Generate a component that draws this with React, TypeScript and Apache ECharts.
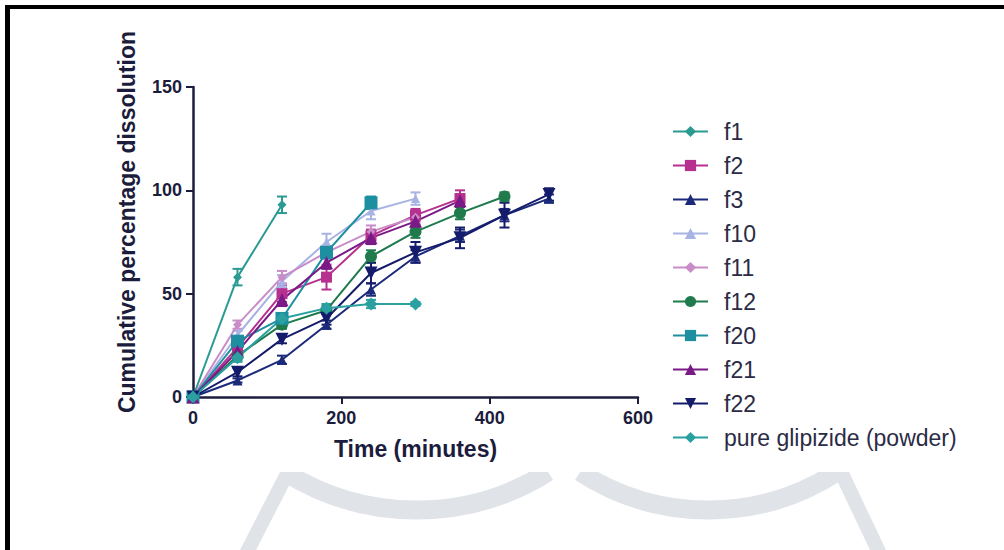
import React, { useEffect, useRef } from "react";
import * as echarts from "echarts";

const timePoints = [0, 60, 120, 180, 240, 300, 360, 420, 480];
const xTicks = [0, 200, 400, 600];
const yTicks = [0, 50, 100, 150];

const seriesNames = ["f1", "f2", "f3", "f10", "f11", "f12", "f20", "f21", "f22", "pure glipizide (powder)"];

const f1 = [0, 58, 93];
const f2 = [0, 24, 50, 58, 78, 88, 96];
const f3 = [0, 8, 18, 35, 52, 68, 78, 88, 96];
const f10 = [0, 30, 56, 75, 90, 96];
const f11 = [0, 35, 58, 70, 80, 87];
const f12 = [0, 20, 35, 42, 68, 80, 89, 97];
const f20 = [0, 27, 38, 70, 94];
const f21 = [0, 22, 47, 65, 77, 85, 95];
const f22 = [0, 12, 28, 38, 60, 70, 77, 88, 98];
const pure = [0, 19, 38, 43, 45, 45];

const f1Sd = [0, 4, 4];
const f2Sd = [0, 2, 4, 6, 3, 3, 4];
const f3Sd = [0, 1, 2, 2, 3, 3, 3, 3, 2];
const f10Sd = [0, 2, 3, 4, 4, 3];
const f11Sd = [0, 2, 3, 3, 3, 3];
const f12Sd = [0, 2, 2, 2, 3, 3, 3, 2];
const f20Sd = [0, 2, 2, 3, 3];
const f21Sd = [0, 2, 3, 3, 3, 3, 3];
const f22Sd = [0, 2, 2, 3, 5, 5, 5, 6, 3];
const pureSd = [0, 2, 2, 2, 2, 1];

const seriesValues = [f1, f2, f3, f10, f11, f12, f20, f21, f22, pure];
const seriesSd = [f1Sd, f2Sd, f3Sd, f10Sd, f11Sd, f12Sd, f20Sd, f21Sd, f22Sd, pureSd];

const colors = ["#2a9a92", "#b5308f", "#1b2a7a", "#a7b3e3", "#c98cc9", "#1f7a4c", "#1d8fa0", "#7a1a86", "#151b6b", "#2aa0a0"];
const downTri = "path://M0,0 L10,0 L5,9 Z";
const symbols = ["diamond", "rect", "triangle", "triangle", "diamond", "circle", "rect", "triangle", "downTri", "diamond"];
const symbolSizes = [9, 11, 10, 9, 9, 12, 13, 13, 13, 13];

const AXIS = "#1c1c3c";
const FONT = "'Liberation Sans', Arial, Helvetica, sans-serif";
const WM = "#e0e3e8";

export default function App() {
  const ref = useRef<HTMLDivElement>(null);
  useEffect(() => {
    if (!ref.current) return;
    const chart = echarts.init(ref.current, null, { renderer: "svg" });

    const errSeries = seriesNames.map((name, i) => ({
      type: "custom",
      name: name + " SD",
      data: seriesValues[i].map((v, j) => [timePoints[j], v, seriesSd[i][j]]),
      encode: { x: 0, y: 1 },
      clip: false,
      z: 2,
      renderItem: (params: any, api: any) => {
        const x = api.value(0);
        const y = api.value(1);
        const e = api.value(2);
        if (!e) return { type: "group", children: [] };
        const t = api.coord([x, y + e]);
        const b = api.coord([x, y - e]);
        const hw = 5;
        const st = { stroke: colors[i], lineWidth: 2 };
        return {
          type: "group",
          children: [
            { type: "line", shape: { x1: t[0], y1: t[1], x2: b[0], y2: b[1] }, style: st },
            { type: "line", shape: { x1: t[0] - hw, y1: t[1], x2: t[0] + hw, y2: t[1] }, style: st },
            { type: "line", shape: { x1: b[0] - hw, y1: b[1], x2: b[0] + hw, y2: b[1] }, style: st },
          ],
        };
      },
    }));

    const lineSeries = seriesNames.map((name, i) => ({
      type: "line",
      name,
      data: seriesValues[i].map((v, j) => [timePoints[j], v]),
      symbol: symbols[i] === "downTri" ? downTri : symbols[i],
      symbolSize: symbolSizes[i],
      showAllSymbol: true,
      clip: false,
      z: 3,
      lineStyle: { color: colors[i], width: 2 },
      itemStyle: { color: colors[i] },
    }));

    chart.setOption({
      animation: false,
      backgroundColor: "#ffffff",
      textStyle: { fontFamily: FONT },
      grid: { left: 193, right: 366, top: 87, bottom: 153, containLabel: false },
      xAxis: {
        type: "value",
        min: xTicks[0],
        max: xTicks[xTicks.length - 1],
        interval: 200,
        name: "Time (minutes)",
        nameLocation: "middle",
        nameGap: 40,
        nameTextStyle: { fontFamily: FONT, fontWeight: "bold", fontSize: 23, color: AXIS },
        axisLine: { show: true, lineStyle: { color: AXIS, width: 2.5 } },
        axisTick: { show: true, length: 7, lineStyle: { color: AXIS, width: 2 } },
        axisLabel: { margin: 12, fontFamily: FONT, fontWeight: "bold", fontSize: 18, color: AXIS },
        splitLine: { show: false },
      },
      yAxis: {
        type: "value",
        min: yTicks[0],
        max: yTicks[yTicks.length - 1],
        interval: 50,
        axisLine: { show: true, lineStyle: { color: AXIS, width: 2.5 } },
        axisTick: { show: true, length: 7, lineStyle: { color: AXIS, width: 2 } },
        axisLabel: { margin: 11, fontFamily: FONT, fontWeight: "bold", fontSize: 18, color: AXIS },
        splitLine: { show: false },
      },
      legend: {
        data: seriesNames,
        orient: "vertical",
        left: 667,
        top: 115,
        itemWidth: 35,
        itemHeight: 14,
        itemGap: 11,
        textStyle: { fontFamily: FONT, fontSize: 23, lineHeight: 23, color: "#2b2b45", padding: [0, 0, 0, 11] },
      },
      graphic: [
        { type: "arc", z: -10, shape: { cx: 416.5, cy: 263.5, r: 246.5, startAngle: 1.008, endAngle: 2.134, clockwise: true }, style: { stroke: WM, lineWidth: 19, fill: null } },
        { type: "arc", z: -10, shape: { cx: 708.5, cy: 273.7, r: 236.3, startAngle: 0.996, endAngle: 2.145, clockwise: true }, style: { stroke: WM, lineWidth: 19, fill: null } },
        { type: "polygon", z: -10, shape: { points: [[280, 472], [296, 472], [256, 550], [240, 550]] }, style: { fill: WM } },
        { type: "polygon", z: -10, shape: { points: [[833, 472], [849, 472], [886, 550], [870, 550]] }, style: { fill: WM } },
        { type: "rect", z: -5, shape: { x: 100, y: 10, width: 904, height: 462 }, style: { fill: "#ffffff" } },
        { type: "rect", z: 10, shape: { x: 5, y: 5, width: 999, height: 4 }, style: { fill: "#000000" } },
        { type: "rect", z: 10, shape: { x: 5, y: 5, width: 5, height: 545 }, style: { fill: "#000000" } },
        {
          type: "text",
          z: 10,
          x: 127,
          y: 222,
          rotation: Math.PI / 2,
          style: {
            text: "Cumulative percentage dissolution",
            fontFamily: FONT,
            fontWeight: "bold",
            fontSize: 23,
            fill: AXIS,
            align: "center",
            verticalAlign: "middle",
          },
        },
      ],
      series: [...errSeries, ...lineSeries],
    });
    return () => chart.dispose();
  }, []);
  return <div ref={ref} style={{ position: "absolute", left: 0, top: 0, width: 1004, height: 550 }} />;
}
